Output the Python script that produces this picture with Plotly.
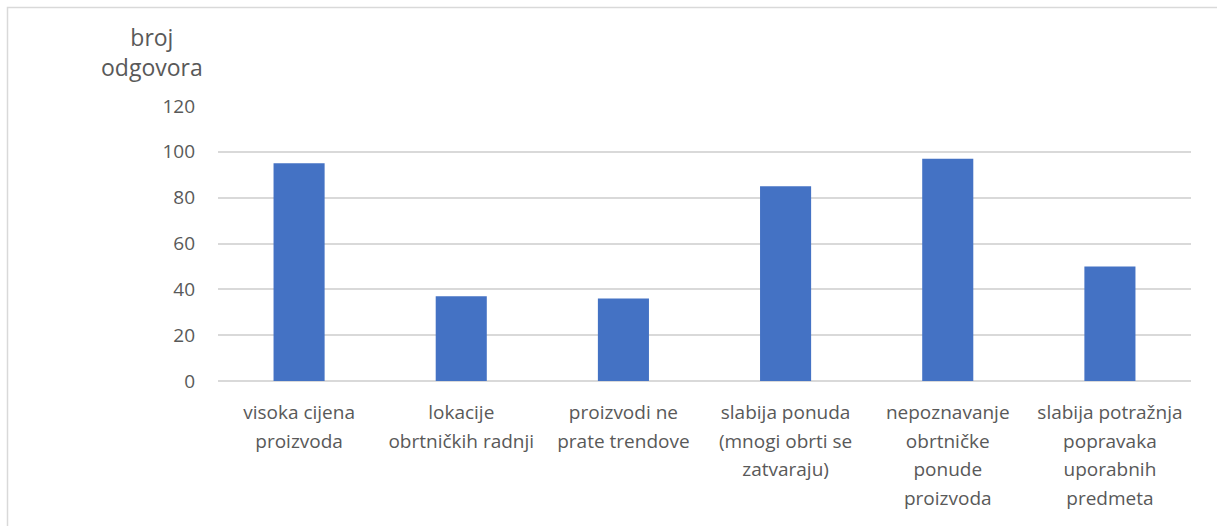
import plotly.graph_objects as go

category_lines = [
    ["visoka cijena", "proizvoda"],
    ["lokacije", "obrtničkih radnji"],
    ["proizvodi ne", "prate trendove"],
    ["slabija ponuda", "(mnogi obrti se", "zatvaraju)"],
    ["nepoznavanje", "obrtničke", "ponude", "proizvoda"],
    ["slabija potražnja", "popravaka", "uporabnih", "predmeta"],
]
values = [95, 37, 36, 85, 97, 50]
y_ticks = [0, 20, 40, 60, 80, 100, 120]
y_title = "broj<br>odgovora"

categories = [" ".join(c) for c in category_lines]
tick_text = ["<br>".join('<span style="font-size:19px">%s</span>' % s for s in c) for c in category_lines]

W, H = 1217, 526
L, R, T, B = 218, 26, 106, 145
pw, ph = W - L - R, H - T - B

def px_x(p):
    return (p - L) / pw

def px_y(p):
    return (H - B - p) / ph

FONT = "Open Sans"
TXT = "#595959"

fig = go.Figure(go.Bar(x=categories, y=values, marker=dict(color="#4472C4", line=dict(width=0))))

fig.update_layout(
    width=W, height=H,
    margin=dict(l=L, r=R, t=T, b=B, autoexpand=False),
    paper_bgcolor="white", plot_bgcolor="white",
    bargap=0.685,
    showlegend=False,
    font=dict(family=FONT, color=TXT, size=17),
    xaxis=dict(showgrid=False, showline=False, ticks="", tickangle=0,
               tickmode="array", tickvals=categories, ticktext=tick_text,
               ticklabelstandoff=15,
               tickfont=dict(size=22, family=FONT, color=TXT)),
    yaxis=dict(range=[0, 120], tickvals=y_ticks, showgrid=True, gridcolor="#d9d9d9", gridwidth=1.5,
               zeroline=True, zerolinecolor="#d9d9d9", zerolinewidth=1.5,
               showline=False, ticks="", ticklabelstandoff=22,
               tickfont=dict(size=19, family=FONT, color=TXT)),
    shapes=[dict(type="rect", xref="paper", yref="paper",
                 x0=px_x(7.5), x1=px_x(1260), y0=px_y(600), y1=px_y(7.5),
                 line=dict(color="#d9d9d9", width=1.5), fillcolor="rgba(0,0,0,0)", layer="below")],
    annotations=[dict(text=y_title, xref="paper", yref="paper", x=px_x(152), y=px_y(52),
                      xanchor="center", yanchor="middle", showarrow=False,
                      font=dict(size=23, family=FONT, color=TXT))],
)

fig.write_html("out.html", config={"displayModeBar": False},
               post_script="document.body.style.margin='0';document.body.style.overflow='hidden';")
